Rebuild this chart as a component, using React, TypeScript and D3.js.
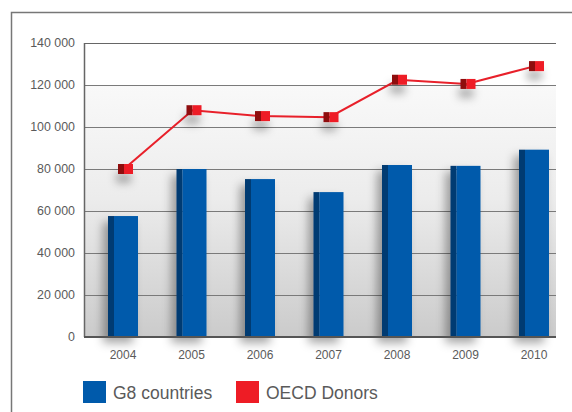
import React, { useEffect, useRef } from "react";
import * as d3 from "d3";

// chart data
const years = ["2004", "2005", "2006", "2007", "2008", "2009", "2010"];
const g8Values = [57600, 80000, 75200, 69000, 81900, 81500, 89200];
const oecdValues = [80000, 108000, 105200, 104700, 122500, 120500, 129000];
const yTicks = [0, 20000, 40000, 60000, 80000, 100000, 120000, 140000];
const legendLabels = ["G8 countries", "OECD Donors"];

const W = 572;
const H = 412;
const plot = { left: 84, right: 556, top: 43, bottom: 337 };

const colors = {
  barFront: "#005aab",
  barSide: "#003a72",
  line: "#e8202a",
  markerFront: "#ee1c25",
  markerSide: "#8e0a10",
  text: "#5a5a5a",
  grid: "#7a7a7a"
};

const fmt = d3.formatLocale({
  decimal: ".",
  thousands: " ",
  grouping: [3],
  currency: ["", ""]
}).format(",");

const App: React.FC = () => {
  const svgRef = useRef<SVGSVGElement>(null);

  useEffect(() => {
    if (svgRef.current === null) return;
    const svg = d3.select(svgRef.current);
    svg.selectAll("*").remove();

    const y = d3.scaleLinear().domain([0, 140000]).range([plot.bottom, plot.top]);
    const x = d3.scalePoint<string>().domain(years).range([123, 534]);

    const defs = svg.append("defs");
    const grad = defs
      .append("linearGradient")
      .attr("id", "bg")
      .attr("x1", 0)
      .attr("y1", 0)
      .attr("x2", 0)
      .attr("y2", 1);
    grad.append("stop").attr("offset", "0%").attr("stop-color", "#f9f9f9");
    grad.append("stop").attr("offset", "45%").attr("stop-color", "#ececec");
    grad.append("stop").attr("offset", "100%").attr("stop-color", "#cbcbcb");

    const barShadow = defs
      .append("filter")
      .attr("id", "barShadow")
      .attr("x", "-80%")
      .attr("y", "-20%")
      .attr("width", "260%")
      .attr("height", "160%");
    barShadow
      .append("feDropShadow")
      .attr("dx", -5)
      .attr("dy", 6)
      .attr("stdDeviation", 5)
      .attr("flood-color", "#000")
      .attr("flood-opacity", 0.35);

    const dotShadow = defs
      .append("filter")
      .attr("id", "dotShadow")
      .attr("x", "-100%")
      .attr("y", "-100%")
      .attr("width", "300%")
      .attr("height", "400%");
    dotShadow
      .append("feDropShadow")
      .attr("dx", -2)
      .attr("dy", 9)
      .attr("stdDeviation", 4)
      .attr("flood-color", "#000")
      .attr("flood-opacity", 0.3);

    // outer frame
    svg
      .append("path")
      .attr("d", `M11.5,${H} V12.5 H${W}`)
      .attr("fill", "none")
      .attr("stroke", "#777")
      .attr("stroke-width", 1.5);

    // plot background
    svg
      .append("rect")
      .attr("x", plot.left)
      .attr("y", plot.top)
      .attr("width", plot.right - plot.left)
      .attr("height", plot.bottom - plot.top)
      .attr("fill", "#fff");
    svg
      .append("rect")
      .attr("x", plot.left)
      .attr("y", y(120000))
      .attr("width", plot.right - plot.left)
      .attr("height", plot.bottom - y(120000))
      .attr("fill", "url(#bg)");

    // grid lines
    svg
      .append("g")
      .selectAll("line")
      .data(yTicks.slice(1))
      .join("line")
      .attr("x1", plot.left)
      .attr("x2", plot.right)
      .attr("y1", d => Math.round(y(d)) + 0.5)
      .attr("y2", d => Math.round(y(d)) + 0.5)
      .attr("stroke", d => (d === 140000 ? "#666" : colors.grid))
      .attr("stroke-width", 1.2);

    // y labels
    svg
      .append("g")
      .selectAll("text")
      .data(yTicks)
      .join("text")
      .attr("x", 75)
      .attr("y", d => y(d))
      .attr("dy", "0.35em")
      .attr("text-anchor", "end")
      .attr("font-size", 12.4)
      .attr("fill", colors.text)
      .text(d => fmt(d));

    // bars
    const barW = 30;
    const sideW = 6;
    const bars = svg
      .append("g")
      .selectAll("g")
      .data(years.map((yr, i) => ({ yr, v: g8Values[i] })))
      .join("g")
      .attr("filter", "url(#barShadow)");
    bars
      .append("rect")
      .attr("x", d => (x(d.yr) as number) - barW / 2)
      .attr("y", d => y(d.v))
      .attr("width", sideW)
      .attr("height", d => plot.bottom - y(d.v))
      .attr("fill", colors.barSide);
    bars
      .append("rect")
      .attr("x", d => (x(d.yr) as number) - barW / 2 + sideW)
      .attr("y", d => y(d.v))
      .attr("width", barW - sideW)
      .attr("height", d => plot.bottom - y(d.v))
      .attr("fill", colors.barFront);

    // axes lines
    svg
      .append("line")
      .attr("x1", plot.left + 0.5)
      .attr("x2", plot.left + 0.5)
      .attr("y1", plot.top)
      .attr("y2", plot.bottom)
      .attr("stroke", "#666")
      .attr("stroke-width", 1.5);
    svg
      .append("line")
      .attr("x1", plot.left)
      .attr("x2", plot.right)
      .attr("y1", plot.bottom)
      .attr("y2", plot.bottom)
      .attr("stroke", "#555")
      .attr("stroke-width", 2);

    // x labels
    svg
      .append("g")
      .selectAll("text")
      .data(years)
      .join("text")
      .attr("x", d => x(d) as number)
      .attr("y", 359)
      .attr("text-anchor", "middle")
      .attr("font-size", 12)
      .attr("fill", colors.text)
      .text(d => d);

    // OECD line
    const pts = years.map((yr, i) => ({ yr, v: oecdValues[i] }));
    const line = d3
      .line<{ yr: string; v: number }>()
      .x(d => (x(d.yr) as number) + 1)
      .y(d => y(d.v));
    svg
      .append("path")
      .datum(pts)
      .attr("d", line)
      .attr("fill", "none")
      .attr("stroke", colors.line)
      .attr("stroke-width", 2);

    const dots = svg
      .append("g")
      .selectAll("g")
      .data(pts)
      .join("g")
      .attr("filter", "url(#dotShadow)");
    dots
      .append("rect")
      .attr("x", d => (x(d.yr) as number) - 5)
      .attr("y", d => y(d.v) - 5)
      .attr("width", 6)
      .attr("height", 10)
      .attr("fill", colors.markerSide);
    dots
      .append("rect")
      .attr("x", d => (x(d.yr) as number) + 1)
      .attr("y", d => y(d.v) - 5)
      .attr("width", 9)
      .attr("height", 10)
      .attr("fill", colors.markerFront);

    // legend
    const legend = svg.append("g");
    const legendX = [83, 236];
    const legendColors = [colors.barFront, colors.markerFront];
    legendLabels.forEach((lab, i) => {
      legend
        .append("rect")
        .attr("x", legendX[i])
        .attr("y", 381)
        .attr("width", 23)
        .attr("height", 22)
        .attr("fill", legendColors[i]);
      legend
        .append("text")
        .attr("x", legendX[i] + 30)
        .attr("y", 399)
        .attr("font-size", 17.5)
        .attr("fill", colors.text)
        .text(lab);
    });
  }, []);

  return (
    <svg
      ref={svgRef}
      width={W}
      height={H}
      style={{
        position: "absolute",
        left: 0,
        top: 0,
        fontFamily: "'Liberation Sans', Arial, sans-serif"
      }}
    />
  );
};

export default App;
